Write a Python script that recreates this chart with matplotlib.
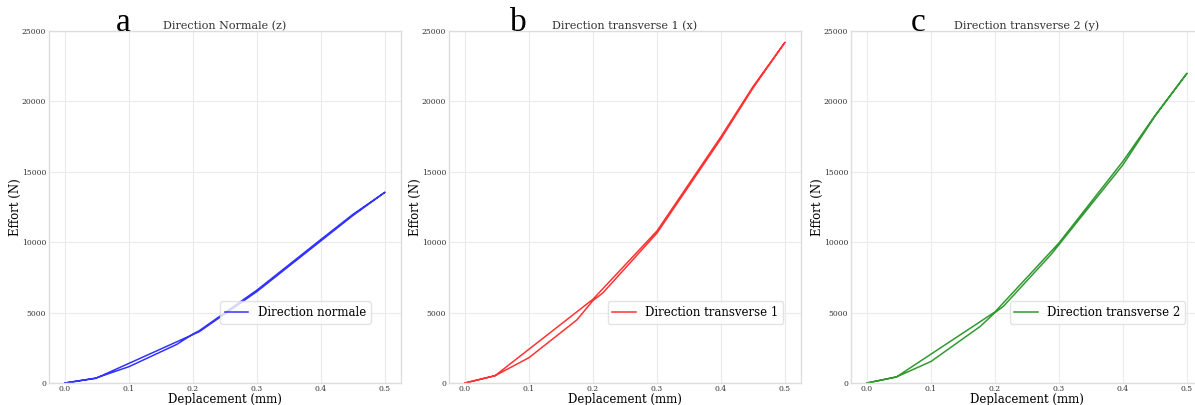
import matplotlib
matplotlib.use("Agg")
import matplotlib.pyplot as plt

# Essai de compression : charge puis décharge dans les trois directions
x_norm_charge = [0, 0.048, 0.1, 0.175, 0.2, 0.21, 0.3, 0.4, 0.45, 0.5]
f_norm_charge = [0, 350, 1160, 2750, 3480, 3720, 6600, 10200, 11980, 13550]
x_norm_decharge = [0.5, 0.45, 0.4, 0.3, 0.21, 0.048, 0]
f_norm_decharge = [13550, 11900, 10100, 6500, 3650, 330, 0]

x_t1_charge = [0, 0.047, 0.1, 0.175, 0.2, 0.215, 0.3, 0.4, 0.45, 0.5]
f_t1_charge = [0, 520, 1800, 4490, 5860, 6380, 10650, 17350, 20950, 24200]
x_t1_decharge = [0.5, 0.45, 0.4, 0.3, 0.2, 0.047, 0]
f_t1_decharge = [24200, 21050, 17500, 10800, 5950, 520, 0]

x_t2_charge = [0, 0.046, 0.1, 0.177, 0.2, 0.213, 0.288, 0.4, 0.45, 0.5]
f_t2_charge = [0, 430, 1530, 4020, 5000, 5440, 9150, 15500, 18950, 22000]
x_t2_decharge = [0.5, 0.45, 0.4, 0.3, 0.2, 0.046, 0]
f_t2_decharge = [22000, 19000, 15750, 9950, 5050, 430, 0]

lettres = ['a', 'b', 'c']
titres = ['Direction Normale (z)', 'Direction transverse 1 (x)', 'Direction transverse 2 (y)']
legendes = ['Direction normale', 'Direction transverse 1', 'Direction transverse 2']
couleurs = ['blue', 'red', 'green']
series = [
    (x_norm_charge + x_norm_decharge, f_norm_charge + f_norm_decharge),
    (x_t1_charge + x_t1_decharge, f_t1_charge + f_t1_decharge),
    (x_t2_charge + x_t2_decharge, f_t2_charge + f_t2_decharge),
]

plt.rcParams['font.family'] = 'DejaVu Serif'

fig = plt.figure(figsize=(11.95, 4.05), dpi=100)
gauches = [49, 449, 851]
lettre_x = [0.21, 0.196, 0.19]

for i in range(3):
    ax = fig.add_axes([gauches[i] / 1195, 22 / 405, 352 / 1195, 352 / 405])
    x, f = series[i]
    ax.plot(x, f, color=couleurs[i], lw=1.1, alpha=0.8, label=legendes[i])
    ax.set_xlim(-0.025, 0.525)
    ax.set_ylim(0, 25000)
    ax.set_xticks([0, 0.1, 0.2, 0.3, 0.4, 0.5])
    ax.set_yticks([0, 5000, 10000, 15000, 20000, 25000])
    ax.grid(True, color='#ebebeb', lw=0.8)
    ax.set_axisbelow(True)
    for s in ax.spines.values():
        s.set_color('#dddddd')
        s.set_linewidth(1.0)
    ax.tick_params(axis='x', length=0, labelsize=5.5, labelcolor='#333333', pad=1.5)
    ax.tick_params(axis='y', length=0, labelsize=5.5, labelcolor='#333333', pad=2)
    ax.set_title(titres[i], fontsize=8, color='#333333', pad=1)
    ax.set_xlabel('Deplacement (mm)', fontsize=8.5, labelpad=0)
    ax.set_ylabel('Effort (N)', fontsize=8.5, labelpad=0)
    ax.text(lettre_x[i], 1.0, lettres[i], transform=ax.transAxes, ha='center',
            va='baseline', fontsize=24, family='Liberation Serif')
    ax.legend(loc='center', bbox_to_anchor=(0.7, 0.2), fontsize=8.5, frameon=True,
              edgecolor='#dddddd', fancybox=True, handlelength=2)

fig.savefig('out.png', dpi=100)
